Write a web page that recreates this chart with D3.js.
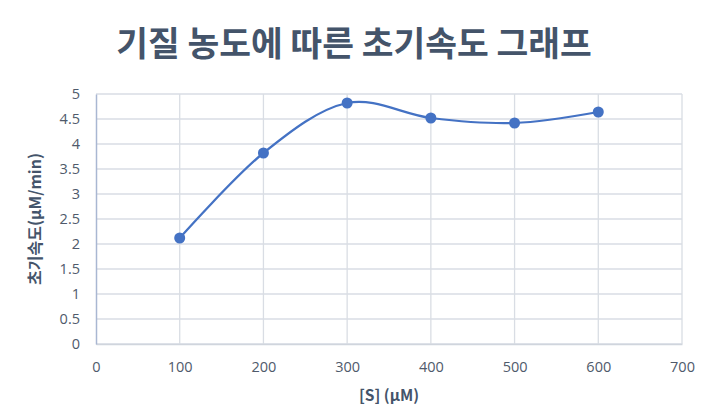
<!DOCTYPE html>
<html><head><meta charset="utf-8">
<script src="https://cdn.jsdelivr.net/npm/d3@7"></script>
<style>body{margin:0;background:#fff}svg{display:block}</style>
</head><body>
<script>
const title = "기질 농도에 따른 초기속도 그래프";
const xLabel = "[S] (μM)";
const yLabel = "초기속도(μM/min)";
const substrate = [100, 200, 300, 400, 500, 600];
const velocity = [2.12, 3.82, 4.82, 4.52, 4.42, 4.64];
const xTicks = [0, 100, 200, 300, 400, 500, 600, 700];
const yTicks = [0, 0.5, 1, 1.5, 2, 2.5, 3, 3.5, 4, 4.5, 5];

const W = 712, H = 418;
const m = {left: 96, right: 30, top: 94, bottom: 74};
const svg = d3.select("body").append("svg").attr("width", W).attr("height", H);
const x = d3.scaleLinear().domain([0, 700]).range([m.left, 682]);
const y = d3.scaleLinear().domain([0, 5]).range([344, 94]);

const grid = svg.append("g");
grid.selectAll(".gy").data(yTicks).join("line")
  .attr("x1", x(0)).attr("x2", x(700)).attr("y1", d => y(d)).attr("y2", d => y(d))
  .attr("stroke", "#D9DDE4").attr("stroke-width", 1.3);
grid.selectAll(".gx").data(xTicks.slice(1)).join("line")
  .attr("x1", d => x(d)).attr("x2", d => x(d)).attr("y1", y(0)).attr("y2", y(5))
  .attr("stroke", "#D9DDE4").attr("stroke-width", 1.3);

// axes
const xAxis = svg.append("g").attr("transform", `translate(0,${y(0)})`)
  .call(d3.axisBottom(x).tickValues(xTicks).tickSize(0).tickPadding(18));
xAxis.select(".domain").attr("stroke", "#D0D5DD").attr("stroke-width", 1.3);
const yAxis = svg.append("g").attr("transform", `translate(${x(0)},0)`)
  .call(d3.axisLeft(y).tickValues(yTicks).tickSize(0).tickPadding(16).tickFormat(d3.format("")));
yAxis.select(".domain").attr("stroke", "#A9B7D2").attr("stroke-width", 1.5);
svg.selectAll(".tick text").attr("font-family", "'Open Sans', 'Liberation Sans', sans-serif")
  .attr("font-size", 14.5).attr("fill", "#4F5A6B");

const pts = substrate.map((s, i) => [s, velocity[i]]);
svg.append("path").datum(pts)
  .attr("d", d3.line().x(d => x(d[0])).y(d => y(d[1])).curve(d3.curveCardinal.tension(0)))
  .attr("fill", "none").attr("stroke", "#4472C4").attr("stroke-width", 2.25);
svg.selectAll(".pt").data(pts).join("circle")
  .attr("cx", d => x(d[0])).attr("cy", d => y(d[1])).attr("r", 5.5).attr("fill", "#4472C4");

svg.append("text").attr("x", 354).attr("y", 56).attr("text-anchor", "middle")
  .attr("font-family", "'Noto Sans CJK KR', sans-serif").attr("font-weight", "bold")
  .attr("font-size", 34.5).attr("fill", "#44546A").text(title);
svg.append("text").attr("x", x(350)).attr("y", 401).attr("text-anchor", "middle")
  .attr("font-family", "'Noto Sans CJK KR', 'Open Sans', sans-serif").attr("font-weight", "bold")
  .attr("font-size", 15.5).attr("fill", "#44546A").text(xLabel);
svg.append("text").attr("transform", `translate(41,219) rotate(-90)`).attr("text-anchor", "middle")
  .attr("font-family", "'Noto Sans CJK KR', sans-serif").attr("font-weight", "bold")
  .attr("font-size", 16).attr("fill", "#44546A").text(yLabel);
</script>
</body></html>
